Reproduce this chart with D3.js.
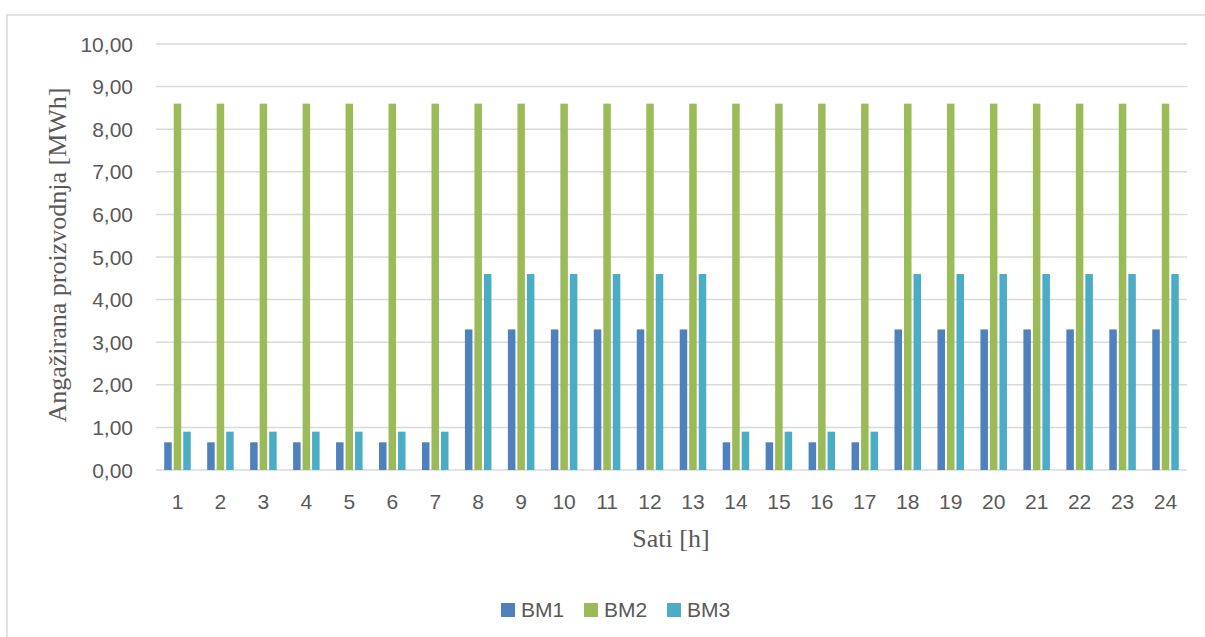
<!DOCTYPE html>
<html>
<head>
<meta charset="utf-8">
<script src="https://cdn.jsdelivr.net/npm/d3@7"></script>
<style>
    body { margin: 0; background: #ffffff; }
    svg { display: block; }
</style>
</head>
<body>
<svg id="grafik" width="1205" height="637"></svg>
<script>
// Podaci očitani sa slike
const sati = ['1','2','3','4','5','6','7','8','9','10','11','12','13','14','15','16','17','18','19','20','21','22','23','24']
const bm1 = [0.65,0.65,0.65,0.65,0.65,0.65,0.65,3.3,3.3,3.3,3.3,3.3,3.3,0.65,0.65,0.65,0.65,3.3,3.3,3.3,3.3,3.3,3.3,3.3]
const bm2 = [8.6,8.6,8.6,8.6,8.6,8.6,8.6,8.6,8.6,8.6,8.6,8.6,8.6,8.6,8.6,8.6,8.6,8.6,8.6,8.6,8.6,8.6,8.6,8.6]
const bm3 = [0.9,0.9,0.9,0.9,0.9,0.9,0.9,4.6,4.6,4.6,4.6,4.6,4.6,0.9,0.9,0.9,0.9,4.6,4.6,4.6,4.6,4.6,4.6,4.6]
const serije = ['BM1','BM2','BM3']
const boje = ['#4f81bd','#9bbb59','#4bacc6']
const yTickovi = [0,1,2,3,4,5,6,7,8,9,10]

const vrijednosti = [bm1, bm2, bm3]

function nacrtajGrafik(){
    const svg = d3.select('#grafik')
    const sivaTekst = '#595959'
    const sivaLinija = '#d9d9d9'

    // okvir grafika (ide preko desnog i donjeg ruba slike)
    svg.append('rect')
        .attr('x', 7)
        .attr('y', 15)
        .attr('width', 1260)
        .attr('height', 700)
        .attr('fill', 'none')
        .attr('stroke', sivaLinija)
        .attr('stroke-width', 1.5)

    const x = d3.scaleBand().domain(sati).range([156, 1187]).paddingInner(0).paddingOuter(0)
    const x1 = d3.scaleBand().domain(serije).range([0, x.bandwidth()]).paddingInner(0).paddingOuter(0.76)
    const y = d3.scaleLinear().domain([0, 10]).range([470, 44])

    // horizontalne linije mreže
    svg.append('g')
        .selectAll('line')
        .data(yTickovi)
        .join('line')
        .attr('x1', 156)
        .attr('x2', 1187)
        .attr('y1', d => y(d))
        .attr('y2', d => y(d))
        .style('stroke', sivaLinija)
        .style('stroke-width', 1.5)

    // oznake y osi
    svg.append('g')
        .selectAll('text')
        .data(yTickovi)
        .join('text')
        .attr('x', 133)
        .attr('y', d => y(d))
        .attr('dy', '0.36em')
        .attr('text-anchor', 'end')
        .style('font-family', '"Liberation Sans", Arial, sans-serif')
        .style('font-size', '21px')
        .style('fill', sivaTekst)
        .text(d => d3.format('.2f')(d).replace('.', ','))

    // stupci
    const grupe = svg.append('g')
        .selectAll('g')
        .data(sati)
        .join('g')
        .attr('transform', d => 'translate(' + x(d) + ',0)')

    grupe.selectAll('rect')
        .data((d, i) => serije.map((s, j) => ({ serija: s, vrijednost: vrijednosti[j][i], boja: boje[j] })))
        .join('rect')
        .attr('x', d => x1(d.serija) + 1)
        .attr('y', d => y(d.vrijednost))
        .attr('width', x1.bandwidth() - 2)
        .attr('height', d => y(0) - y(d.vrijednost))
        .attr('fill', d => d.boja)

    // oznake x osi
    svg.append('g')
        .selectAll('text')
        .data(sati)
        .join('text')
        .attr('x', d => x(d) + x.bandwidth() / 2)
        .attr('y', 509)
        .attr('text-anchor', 'middle')
        .style('font-family', '"Liberation Sans", Arial, sans-serif')
        .style('font-size', '21px')
        .style('fill', sivaTekst)
        .text(d => d)

    // naslovi osi
    svg.append('text')
        .attr('x', 671)
        .attr('y', 547)
        .attr('text-anchor', 'middle')
        .style('font-family', '"Liberation Serif", "Times New Roman", serif')
        .style('font-size', '26px')
        .style('fill', sivaTekst)
        .text('Sati [h]')

    svg.append('text')
        .attr('transform', 'translate(66,255) rotate(-90)')
        .attr('text-anchor', 'middle')
        .style('font-family', '"Liberation Serif", "Times New Roman", serif')
        .style('font-size', '26px')
        .style('fill', sivaTekst)
        .text('Angažirana proizvodnja [MWh]')

    // legenda
    const legendaX = [501, 584, 667]
    const legenda = svg.append('g')
        .selectAll('g')
        .data(serije)
        .join('g')
        .attr('transform', (d, i) => 'translate(' + legendaX[i] + ',603)')
    legenda.append('rect')
        .attr('width', 14)
        .attr('height', 14)
        .attr('fill', (d, i) => boje[i])
    legenda.append('text')
        .attr('x', 20)
        .attr('y', 14)
        .style('font-family', '"Liberation Sans", Arial, sans-serif')
        .style('font-size', '21px')
        .style('fill', sivaTekst)
        .text(d => d)
}

nacrtajGrafik()
</script>
</body>
</html>
